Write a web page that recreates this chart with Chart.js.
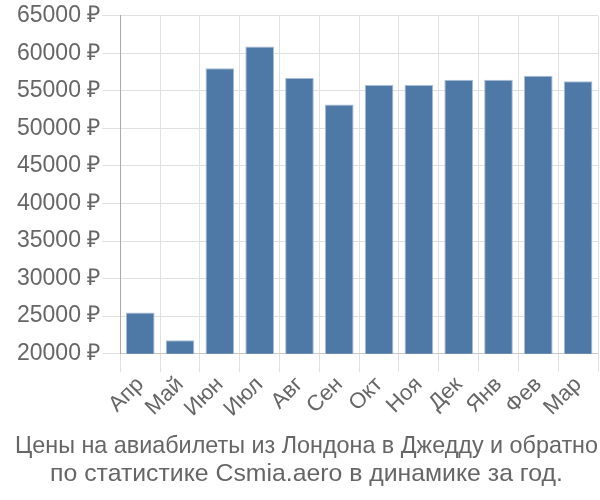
<!DOCTYPE html>
<html lang="ru">
<head>
    <meta charset="UTF-8">
    <title>Цены на авиабилеты</title>
    <script src="https://cdn.jsdelivr.net/npm/chart.js"></script>
    <style>
        body { margin: 0; padding: 0; background: #fff; }
        #wrap { width: 600px; height: 500px; }
    </style>
</head>
<body>
    <div id="wrap"><canvas id="priceChart"></canvas></div>
    <script>
        const months = ['Апр', 'Май', 'Июн', 'Июл', 'Авг', 'Сен', 'Окт', 'Ноя', 'Дек', 'Янв', 'Фев', 'Мар'];
        const prices = [25500, 21800, 58000, 60900, 56700, 53200, 55800, 55800, 56500, 56500, 57000, 56300];
        const titleLines = ['Цены на авиабилеты из Лондона в Джедду и обратно', 'по статистике Csmia.aero в динамике за год.'];

        Chart.defaults.font.family = '"Liberation Sans", Arial, sans-serif';
        Chart.defaults.color = '#666';

        const ctx = document.getElementById('priceChart').getContext('2d');
        new Chart(ctx, {
            type: 'bar',
            data: {
                labels: months,
                datasets: [{
                    data: prices,
                    backgroundColor: '#4e79a7',
                    borderColor: '#a9bdd3',
                    borderWidth: 1
                }]
            },
            options: {
                responsive: true,
                maintainAspectRatio: false,
                animation: false,
                layout: { padding: { left: 15, right: 2, top: 4, bottom: 8 } },
                plugins: {
                    legend: { display: false },
                    tooltip: { enabled: false },
                    title: {
                        display: true,
                        position: 'bottom',
                        text: titleLines,
                        color: '#666',
                        font: { size: 24.8, weight: 'normal', lineHeight: 1.13 },
                        padding: { top: 10, bottom: 4 }
                    }
                },
                scales: {
                    x: {
                        grid: { color: '#e0e0e0', offset: true, tickLength: 18 },
                        ticks: { font: { size: 22 }, maxRotation: 45, minRotation: 45, autoSkip: false, color: '#666', padding: 0 }
                    },
                    y: {
                        min: 20000,
                        max: 65000,
                        grid: { color: '#e0e0e0', tickLength: 18 },
                        border: { color: '#aaa' },
                        ticks: {
                            stepSize: 5000,
                            font: { size: 23 },
                            color: '#666',
                            padding: 2,
                            callback: v => v + ' ₽'
                        }
                    }
                }
            }
        });
    </script>
</body>
</html>
